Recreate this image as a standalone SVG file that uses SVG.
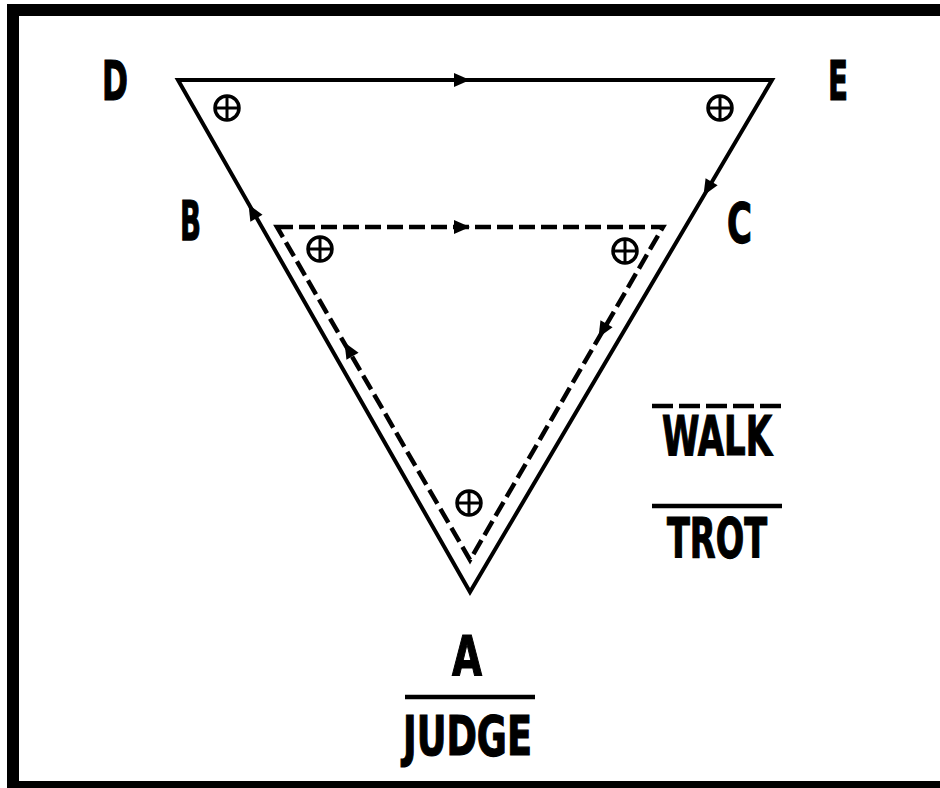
<svg xmlns="http://www.w3.org/2000/svg" width="940" height="788" viewBox="0 0 940 788">
<defs>
<style>
.lbl{font-family:"Liberation Sans Narrow","DejaVu Sans Condensed","Liberation Sans",sans-serif;font-weight:bold;font-size:56px;fill:#000;stroke:#000;stroke-width:1.2}
.solid{fill:none;stroke:#000;stroke-width:4;stroke-linejoin:miter;stroke-miterlimit:10}
.dash{fill:none;stroke:#000;stroke-width:4.5;stroke-dasharray:16 6}
.mark circle{fill:none;stroke:#000;stroke-width:3.5}
.mark path{fill:none;stroke:#000;stroke-width:3}
.rule{stroke:#000;stroke-width:4.5}
</style>
<path id="ah" d="M3,0 L-13,-7 L-13,7 Z" fill="#000"/>
<g id="cm" class="mark"><circle cx="0" cy="0" r="12"/><path d="M-12,0 H12 M0,-12 V12"/></g>
</defs>
<rect x="0" y="0" width="940" height="788" fill="#fff"/>
<rect x="13" y="10" width="940" height="777" fill="none" stroke="#000" stroke-width="12"/>

<g id="connectors">
<polygon class="solid" points="178,80 772,80 470,592"/>
<polygon class="dash" points="277,227 663,227 470,560"/>
<use href="#ah" transform="translate(467,80)"/>
<use href="#ah" transform="translate(250,207) rotate(-119.7)"/>
<use href="#ah" transform="translate(705,193) rotate(120.5)"/>
<use href="#ah" transform="translate(467,227)"/>
<use href="#ah" transform="translate(346,345) rotate(-120.1)"/>
<use href="#ah" transform="translate(600,335) rotate(120.1)"/>
</g>

<g id="markers">
<use href="#cm" x="227" y="108"/>
<use href="#cm" x="720" y="108"/>
<use href="#cm" x="320" y="249"/>
<use href="#cm" x="625" y="251"/>
<use href="#cm" x="469" y="503"/>
</g>

<g id="node-D"><text class="lbl" x="102" y="100" textLength="26" lengthAdjust="spacingAndGlyphs">D</text></g>
<g id="node-E"><text class="lbl" x="828" y="100" textLength="20" lengthAdjust="spacingAndGlyphs">E</text></g>
<g id="node-B"><text class="lbl" x="180" y="240" textLength="21" lengthAdjust="spacingAndGlyphs">B</text></g>
<g id="node-C"><text class="lbl" x="727" y="242" textLength="25" lengthAdjust="spacingAndGlyphs">C</text></g>
<g id="node-A">
<text class="lbl" x="452" y="675" textLength="30" lengthAdjust="spacingAndGlyphs">A</text>
<line class="rule" x1="405" y1="697" x2="535" y2="697"/>
<text class="lbl" x="403" y="755" textLength="129" lengthAdjust="spacingAndGlyphs">JUDGE</text>
</g>
<g id="legend-walk">
<line class="rule" x1="652" y1="406" x2="782" y2="406" stroke-dasharray="21 6"/>
<text class="lbl" x="662" y="455" textLength="110" lengthAdjust="spacingAndGlyphs">WALK</text>
</g>
<g id="legend-trot">
<line class="rule" x1="652" y1="506" x2="782" y2="506"/>
<text class="lbl" x="667" y="557" textLength="100" lengthAdjust="spacingAndGlyphs">TROT</text>
</g>
</svg>
